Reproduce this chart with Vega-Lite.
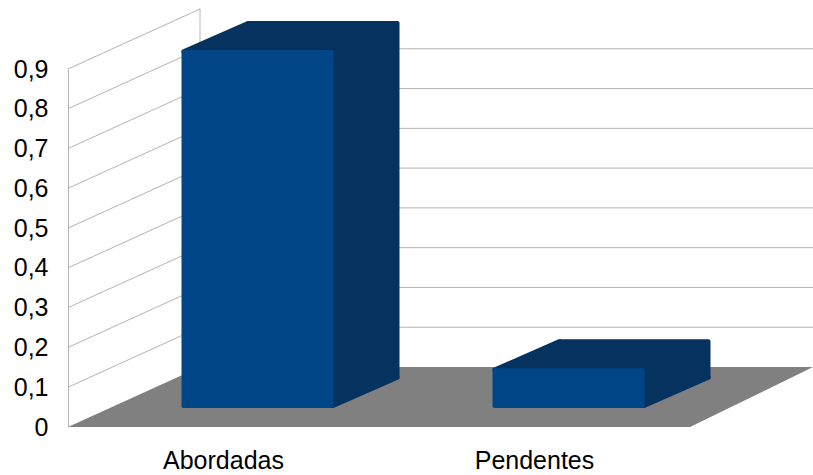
{
  "$schema": "https://vega.github.io/schema/vega-lite/v6.json",
  "width": 622,
  "height": 358,
  "autosize": {"type": "none"},
  "padding": {"left": 68, "top": 69, "right": 123, "bottom": 48},
  "background": "white",
  "config": {
    "view": {"stroke": null},
    "font": "Liberation Sans",
    "axisY": {"grid": false, "ticks": false, "domain": true, "domainColor": "#b3b3b3", "domainWidth": 1, "labelFontSize": 25, "labelColor": "#000000", "labelPadding": 20, "labelOverlap": false, "tickCount": 10},
    "axisX": {"grid": false, "ticks": false, "domain": false, "labelFontSize": 25, "labelColor": "#000000", "labelPadding": 21, "labelAngle": 0}
  },
  "datasets": {
    "barras": [
      {"categoria": "Abordadas", "valor": 0.9},
      {"categoria": "Pendentes", "valor": 0.1}
    ],
    "grade": [
      {"v": 0.1}, {"v": 0.2}, {"v": 0.3}, {"v": 0.4}, {"v": 0.5},
      {"v": 0.6}, {"v": 0.7}, {"v": 0.8}, {"v": 0.9}
    ],
    "parede": [{"elemento": "parede"}]
  },
  "data": {"name": "barras"},
  "resolve": {"scale": {"x": "independent"}, "axis": {"x": "independent"}},
  "layer": [
    {
      "data": {"name": "grade"},
      "mark": {"type": "rule", "color": "#b3b3b3", "strokeWidth": 1, "x2Offset": 132, "y2Offset": -60},
      "encoding": {
        "x": {"datum": 0, "type": "quantitative", "scale": {"domain": [0, 1], "nice": false, "zero": false}, "axis": null},
        "x2": {"datum": 0},
        "y": {
          "field": "v", "type": "quantitative", "title": null,
          "scale": {"domain": [0, 0.9], "nice": false},
          "axis": {
            "values": [0, 0.1, 0.2, 0.3, 0.4, 0.5, 0.6, 0.7, 0.8, 0.9],
            "labelOverlap": false,
            "labelExpr": "datum.value == 0 ? '0' : replace(format(datum.value, '.1f'), '.', ',')"
          }
        },
        "y2": {"field": "v"}
      }
    },
    {
      "data": {"name": "grade"},
      "transform": [{"filter": "datum.v < 0.85"}],
      "mark": {"type": "rule", "color": "#b3b3b3", "strokeWidth": 1, "xOffset": 132, "x2Offset": 132, "yOffset": -60},
      "encoding": {
        "x": {"datum": 0, "type": "quantitative", "scale": {"domain": [0, 1], "nice": false, "zero": false}, "axis": null},
        "x2": {"datum": 1},
        "y": {"field": "v", "type": "quantitative", "title": null}
      }
    },
    {
      "data": {"name": "parede"},
      "mark": {"type": "rule", "color": "#b3b3b3", "strokeWidth": 1, "xOffset": 132, "yOffset": -60, "y2Offset": -60},
      "encoding": {
        "x": {"datum": 0, "type": "quantitative", "scale": {"domain": [0, 1], "nice": false, "zero": false}, "axis": null},
        "y": {"datum": 0, "type": "quantitative", "title": null},
        "y2": {"datum": 0.9}
      }
    },
    {
      "data": {"name": "parede"},
      "mark": {"type": "point", "shape": "M0,0L622,0L745,-60L132,-60Z", "size": 4, "filled": true, "color": "#808080", "opacity": 1, "strokeWidth": 0},
      "encoding": {
        "x": {"datum": 0, "type": "quantitative", "scale": {"domain": [0, 1], "nice": false, "zero": false}, "axis": null},
        "y": {"datum": 0, "type": "quantitative", "title": null}
      }
    },
    {
      "mark": {"type": "bar", "width": 152, "color": "#06325f", "xOffset": 100, "yOffset": -48, "y2Offset": -48, "cornerRadius": 2},
      "encoding": {
        "x": {"field": "categoria", "type": "nominal", "scale": {"paddingInner": 0, "paddingOuter": 0}, "axis": null},
        "y": {"field": "valor", "type": "quantitative", "title": null, "stack": null},
        "y2": {"datum": 0}
      }
    },
    {
      "mark": {"type": "point", "shape": "M0,0L66,-29L69,-29L69,3L0,3Z", "size": 4, "filled": true, "color": "#06325f", "opacity": 1, "strokeWidth": 0, "xOffset": -42, "yOffset": -19},
      "encoding": {
        "x": {"field": "categoria", "type": "nominal", "scale": {"type": "point", "padding": 0.5}, "axis": null},
        "y": {"field": "valor", "type": "quantitative", "title": null}
      }
    },
    {
      "mark": {"type": "point", "shape": "M-3,0L0,0L66,-29L66,-32L-3,-32Z", "size": 4, "filled": true, "color": "#06325f", "opacity": 1, "strokeWidth": 0, "xOffset": 110, "yOffset": -19},
      "encoding": {
        "x": {"field": "categoria", "type": "nominal", "scale": {"type": "point", "padding": 0.5}, "axis": null},
        "y": {"datum": 0, "type": "quantitative", "title": null}
      }
    },
    {
      "mark": {"type": "bar", "width": 152, "color": "#004586", "xOffset": 34, "yOffset": -19, "y2Offset": -19, "cornerRadius": 2},
      "encoding": {
        "x": {"field": "categoria", "type": "nominal", "scale": {"paddingInner": 0, "paddingOuter": 0}, "title": null},
        "y": {"field": "valor", "type": "quantitative", "title": null, "stack": null},
        "y2": {"datum": 0}
      }
    }
  ]
}
